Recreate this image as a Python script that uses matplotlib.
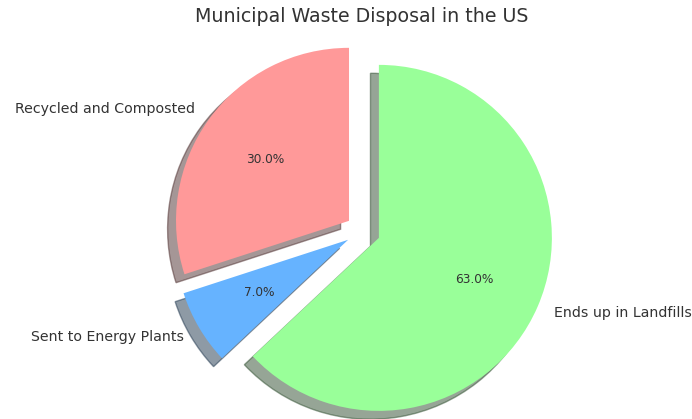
import matplotlib.pyplot as plt

# share of US municipal waste by where it ends up
labels = ["Recycled and Composted", "Sent to Energy Plants", "Ends up in Landfills"]
shares = [30, 7, 63]
colors = ["#ff9999", "#66b3ff", "#99ff99"]
explode = (0.1, 0.1, 0.1)

TEXT_COLOR = "#333333"

fig = plt.figure(figsize=(6.92, 4.19), dpi=100)
ax = fig.add_axes([0, 0, 1, 1])

wedges, texts, autotexts = ax.pie(
    shares,
    labels=labels,
    colors=colors,
    explode=explode,
    autopct="%1.1f%%",
    startangle=90,
    shadow={"ox": -0.035, "oy": -0.035},
    textprops={"color": TEXT_COLOR, "fontsize": 10.2},
)
for t in autotexts:
    t.set_fontsize(8.7)

# pie centre sits a little right of the middle, radius ~173 px
ax.set_xlim(-363 / 173, (692 - 363) / 173)
ax.set_ylim(-188 / 173, (419 - 188) / 173)
ax.set_aspect("equal")

fig.text(0.523, 1 - 16 / 419, "Municipal Waste Disposal in the US",
         ha="center", va="center", fontsize=13.7, color=TEXT_COLOR)

fig.savefig("out.png", dpi=100)
